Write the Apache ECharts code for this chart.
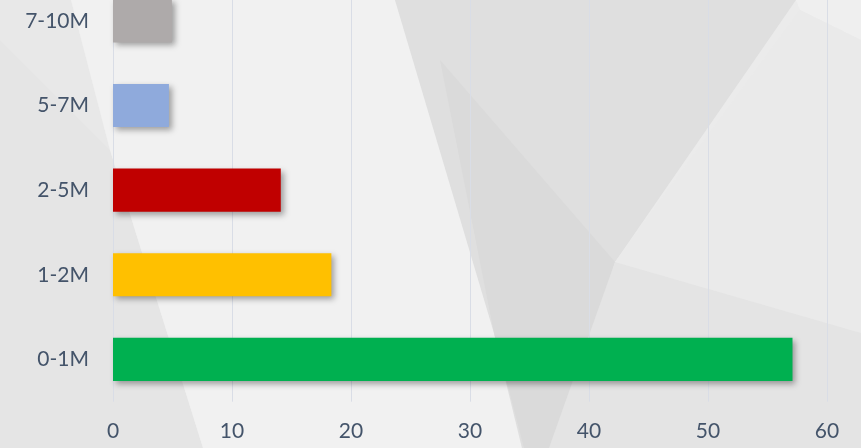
<!DOCTYPE html>
<html>
<head>
<meta charset="utf-8">
<script src="https://cdn.jsdelivr.net/npm/echarts@6/dist/echarts.min.js"></script>
<style>
html,body{margin:0;padding:0;background:#ededed;}
#chart{width:861px;height:448px;}
</style>
</head>
<body>
<div id="chart"></div>
<script>
const categories = ['0-1M', '1-2M', '2-5M', '5-7M', '7-10M'];
const values = [57.1, 18.35, 14.1, 4.7, 4.95];
const barColors = ['#00B050', '#FFC000', '#C00000', '#8FAADC', '#AEAAAA'];
const xTicks = [0, 10, 20, 30, 40, 50, 60];

const chart = echarts.init(document.getElementById('chart'));

function poly(points, fill) {
  return { type: 'polygon', silent: true, z: -10, shape: { points: points }, style: { fill: fill } };
}

const bg = [
  { type: 'rect', silent: true, z: -11, shape: { x: 0, y: 0, width: 861, height: 448 }, style: { fill: '#ebebeb' } },
  poly([[0,0],[71,0],[110,150],[0,40]], '#e8e8e8'),
  poly([[0,40],[110,150],[203,448],[0,448]], '#e5e5e5'),
  poly([[71,0],[395,0],[494,333],[522,448],[203,448],[110,150]], '#f1f1f1'),
  poly([[395,0],[796,0],[615,262],[549,448],[522,448],[494,333]], '#dfdfdf'),
  poly([[440,60],[615,262],[560,448],[524,448],[494,333]], '#dadada'),
  poly([[796,0],[861,0],[861,40],[800,10]], '#efefef'),
  poly([[800,10],[861,40],[861,333],[615,262]], '#eaeaea'),
  poly([[615,262],[861,333],[861,448],[549,448]], '#e4e4e4')
];

chart.setOption({
  animation: false,
  backgroundColor: '#ebebeb',
  graphic: bg,
  grid: { left: 113, right: 34, top: -21.5, bottom: 46.3, containLabel: false, outerBoundsMode: 'none' },
  xAxis: {
    type: 'value',
    min: 0, max: 60, interval: 10,
    axisLine: { show: false },
    axisTick: { show: false },
    splitLine: { show: true, lineStyle: { color: '#d9dde6', width: 1 } },
    axisLabel: {
      margin: 19,
      color: '#44546A',
      fontFamily: 'Lato',
      fontSize: 21,
      formatter: function (v) { return xTicks.indexOf(v) >= 0 ? String(v) : ''; }
    }
  },
  yAxis: {
    type: 'category',
    data: categories,
    axisLine: { show: false },
    axisTick: { show: false },
    axisLabel: { margin: 24, color: '#44546A', fontFamily: 'Lato', fontSize: 21 }
  },
  series: [{
    type: 'bar',
    barCategoryGap: '49%',
    data: values.map(function (v, i) {
      return { value: v, itemStyle: { color: barColors[i] } };
    }),
    itemStyle: {
      shadowColor: 'rgba(0,0,0,0.35)',
      shadowBlur: 6,
      shadowOffsetX: 3,
      shadowOffsetY: 3
    }
  }]
});
</script>
</body>
</html>
